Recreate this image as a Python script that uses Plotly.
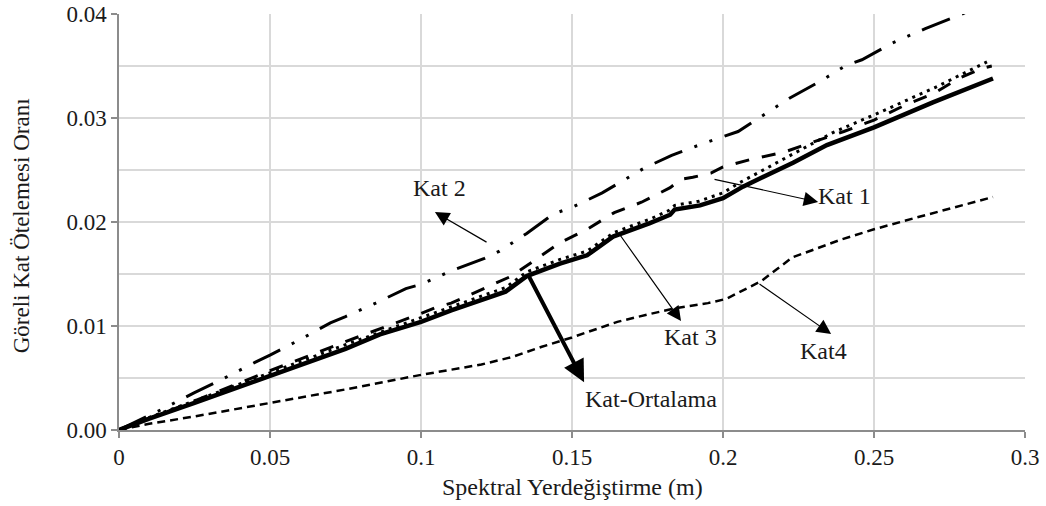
import plotly.graph_objects as go

# Spektral yerdeğiştirme (m) ve göreli kat ötelemesi oranları
kat1_x = [0, 0.01, 0.025, 0.05, 0.075, 0.1, 0.105, 0.11, 0.12, 0.13, 0.137, 0.146, 0.155,
          0.164, 0.173, 0.1825, 0.186, 0.19, 0.196, 0.2, 0.209, 0.22, 0.23, 0.24, 0.25,
          0.26, 0.27, 0.278, 0.286, 0.289]
kat1_y = [0, 0.0011, 0.0028, 0.0057, 0.0085, 0.0112, 0.0118, 0.0122, 0.0135, 0.0148, 0.0162,
          0.0180, 0.0193, 0.0209, 0.0219, 0.0233, 0.0241, 0.0243, 0.0247, 0.0253, 0.0260,
          0.0267, 0.0277, 0.0287, 0.0298, 0.0312, 0.0324, 0.0338, 0.0348, 0.0350]

kat2_x = [0, 0.015, 0.025, 0.035, 0.045, 0.05, 0.06, 0.07, 0.075, 0.085, 0.095, 0.1, 0.11,
          0.121, 0.126, 0.135, 0.144, 0.15, 0.16, 0.174, 0.183, 0.193, 0.205, 0.222, 0.232,
          0.241, 0.246, 0.256, 0.267, 0.28, 0.29]
kat2_y = [0, 0.0021, 0.0036, 0.0050, 0.0065, 0.0072, 0.0087, 0.0103, 0.0109, 0.0122, 0.0136,
          0.0140, 0.0153, 0.0165, 0.0172, 0.0189, 0.0208, 0.0214, 0.0228, 0.0252, 0.0264,
          0.0275, 0.0287, 0.0319, 0.0335, 0.0351, 0.0356, 0.0372, 0.0386, 0.0401, 0.0414]

kat3_x = [0, 0.01, 0.025, 0.05, 0.075, 0.1, 0.12, 0.128, 0.135, 0.146, 0.155, 0.164, 0.176,
          0.182, 0.184, 0.192, 0.2, 0.205, 0.221, 0.2364, 0.25, 0.27, 0.2874]
kat3_y = [0, 0.0012, 0.0028, 0.0055, 0.0082, 0.0108, 0.0129, 0.0137, 0.0152, 0.0164, 0.0172,
          0.0190, 0.0203, 0.0211, 0.0216, 0.0220, 0.0228, 0.0237, 0.0262, 0.0286, 0.0303,
          0.0329, 0.0354]

kat4_x = [0, 0.01, 0.025, 0.05, 0.075, 0.1, 0.12, 0.13, 0.14, 0.15, 0.165, 0.175, 0.184,
          0.195, 0.201, 0.2126, 0.223, 0.239, 0.25, 0.265, 0.2894]
kat4_y = [0, 0.0006, 0.0013, 0.0026, 0.0039, 0.0053, 0.0063, 0.0070, 0.0080, 0.0089, 0.0104,
          0.0111, 0.0117, 0.0122, 0.0126, 0.0143, 0.0166, 0.0183, 0.0193, 0.0205, 0.0224]

ort_x = [0, 0.01, 0.025, 0.05, 0.075, 0.0864, 0.1, 0.11, 0.12, 0.128, 0.135, 0.146, 0.155,
         0.1636, 0.1758, 0.1825, 0.184, 0.1924, 0.2, 0.2066, 0.2232, 0.2344, 0.25, 0.2695,
         0.2894]
ort_y = [0, 0.0011, 0.0026, 0.0052, 0.0078, 0.0092, 0.0104, 0.0115, 0.0125, 0.0133, 0.0148,
         0.0160, 0.0168, 0.0186, 0.0199, 0.0207, 0.0212, 0.0216, 0.0223, 0.0234, 0.0257,
         0.0274, 0.0291, 0.0315, 0.0338]

# Etiketler ve okları: metin konumu, ok ucu ve ok kuyruğu (veri koordinatları)
labels = ["Kat 1", "Kat 2", "Kat 3", "Kat4", "Kat-Ortalama"]
label_x = [0.2401, 0.1060, 0.1894, 0.2334, 0.1762]
label_y = [0.0225, 0.02327, 0.00894, 0.0076, 0.0030]
head_x = [0.2315, 0.1046, 0.1861, 0.2358, 0.1540]
head_y = [0.02192, 0.02096, 0.01048, 0.00923, 0.0046]
tail_x = [0.1967, 0.1222, 0.1652, 0.2116, 0.1355]
tail_y = [0.02413, 0.01798, 0.01904, 0.01413, 0.0149]
arrow_w = [1.2, 1.2, 1.2, 1.2, 4]

x_ticks = [0, 0.05, 0.1, 0.15, 0.2, 0.25, 0.3]
x_ticktext = ["0", "0.05", "0.1", "0.15", "0.2", "0.25", "0.3"]
y_ticks = [0, 0.01, 0.02, 0.03, 0.04]
y_ticktext = ["0.00", "0.01", "0.02", "0.03", "0.04"]

FONT = "Liberation Serif"
INK = "#1a1a1a"
FS = 23

fig = go.Figure()

fig.add_trace(go.Scatter(x=kat4_x, y=kat4_y, mode="lines", name="Kat4",
                         line=dict(color="black", width=2.5, dash="8px,5px")))
fig.add_trace(go.Scatter(x=kat2_x, y=kat2_y, mode="lines", name="Kat 2",
                         line=dict(color="black", width=3,
                                   dash="30px,13px,3px,13px,3px,13px")))
fig.add_trace(go.Scatter(x=kat1_x, y=kat1_y, mode="lines", name="Kat 1",
                         line=dict(color="black", width=3, dash="14px,13px")))
fig.add_trace(go.Scatter(x=ort_x, y=ort_y, mode="lines", name="Kat-Ortalama",
                         line=dict(color="black", width=4.5)))
fig.add_trace(go.Scatter(x=kat3_x, y=kat3_y, mode="lines", name="Kat 3",
                         line=dict(color="black", width=3, dash="3px,5px")))

for i, t in enumerate(labels):
    fig.add_annotation(x=head_x[i], y=head_y[i], ax=tail_x[i], ay=tail_y[i],
                       xref="x", yref="y", axref="x", ayref="y",
                       text="", showarrow=True, arrowhead=2,
                       arrowsize=2.4 if arrow_w[i] < 2 else 1.1,
                       arrowwidth=arrow_w[i], arrowcolor="black", standoff=0,
                       startstandoff=0)
    fig.add_annotation(x=label_x[i], y=label_y[i], xref="x", yref="y", text=t,
                       showarrow=False, xanchor="center", yanchor="middle",
                       font=dict(family=FONT, size=FS + 1, color=INK))

# Eksen başlıkları
fig.add_annotation(x=0.5, y=-0.137, xref="paper", yref="paper",
                   text="Spektral Yerdeğiştirme (m)", showarrow=False,
                   xanchor="center", yanchor="middle",
                   font=dict(family=FONT, size=FS + 1, color=INK))
fig.add_annotation(x=-0.108, y=0.49, xref="paper", yref="paper",
                   text="Göreli Kat Ötelemesi Oranı", showarrow=False, textangle=-90,
                   xanchor="center", yanchor="middle",
                   font=dict(family=FONT, size=FS, color=INK))

GRID = "#d9d9d9"
AXIS = "#8c8c8c"

fig.update_xaxes(range=[0, 0.3], tickvals=x_ticks, ticktext=x_ticktext,
                 automargin=False,
                 showgrid=True, gridcolor=GRID, gridwidth=1.5,
                 showline=True, linecolor=AXIS, linewidth=1.5,
                 ticks="outside", ticklen=6, tickcolor=AXIS, tickwidth=1.5,
                 zeroline=False, tickfont=dict(family=FONT, size=FS, color=INK))
fig.update_yaxes(range=[0, 0.04], tickvals=y_ticks, ticktext=y_ticktext,
                 automargin=False,
                 showgrid=True, gridcolor=GRID, gridwidth=1.5,
                 minor=dict(dtick=0.005, showgrid=True, gridcolor=GRID, gridwidth=1.5),
                 showline=True, linecolor=AXIS, linewidth=1.5,
                 ticks="outside", ticklen=6, tickcolor=AXIS, tickwidth=1.5,
                 zeroline=False, tickfont=dict(family=FONT, size=FS, color=INK))

fig.update_layout(width=1046, height=506, showlegend=False,
                  margin=dict(l=119, r=21, t=14, b=76, autoexpand=False),
                  plot_bgcolor="white", paper_bgcolor="white")

fig.write_html("out.html", config={"displayModeBar": False})
